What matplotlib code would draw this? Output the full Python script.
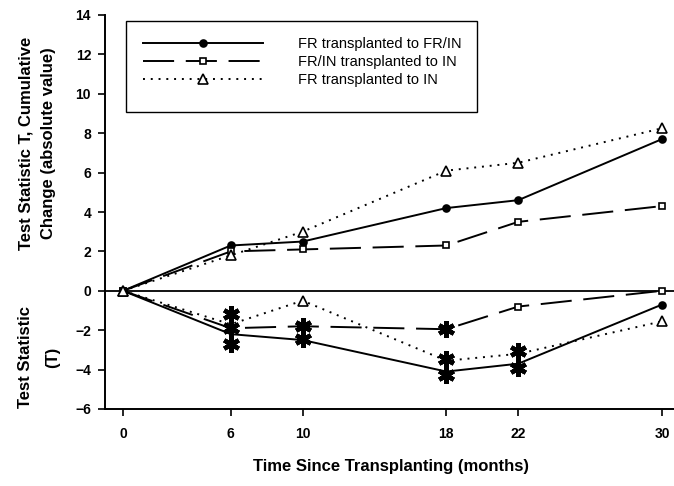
import numpy as np
import matplotlib
matplotlib.use("Agg")
import matplotlib.pyplot as plt
from matplotlib.patches import Rectangle

plt.rcParams['font.family'] = ['Liberation Sans', 'DejaVu Sans']

# months since transplanting
months = [0, 6, 10, 18, 22, 30]
xticks = [0, 6, 10, 18, 22, 30]
yticks = [-6, -4, -2, 0, 2, 4, 6, 8, 10, 12, 14]

labels = ['FR transplanted to FR/IN', 'FR/IN transplanted to IN', 'FR transplanted to IN']

# cumulative change (upper part)
cum_fr_frin = [0, 2.3, 2.5, 4.2, 4.6, 7.7]
cum_frin_in = [0, 2.0, 2.1, 2.3, 3.5, 4.3]
cum_fr_in = [0, 1.8, 3.0, 6.1, 6.5, 8.25]

# test statistic T (lower part)
t_fr_frin = [0, -2.2, -2.5, -4.1, -3.7, -0.7]
t_frin_in = [0, -1.9, -1.8, -1.95, -0.8, 0.0]
t_fr_in = [0, -1.7, -0.5, -3.55, -3.2, -1.55]

# which T values are significant (drawn as asterisks instead of markers)
sig_fr_frin = [False, True, True, True, True, False]
sig_frin_in = [False, True, True, True, False, False]
sig_fr_in = [False, True, False, True, True, False]

# asterisk positions
star_x = [6, 6, 6, 10, 10, 18, 18, 18, 22, 22]
star_y = [-1.2, -1.9, -2.7, -1.8, -2.45, -1.95, -3.45, -4.25, -3.05, -3.9]

fig = plt.figure(figsize=(6.74, 4.86), dpi=100)
ax = fig.add_axes([105 / 674, 1 - 409 / 486, 569 / 674, 394 / 486])

styles = [
    dict(marker='o', mfc='black', ms=5, dashes=()),
    dict(marker='s', mfc='white', ms=5, dashes=(16, 6)),
    dict(marker='^', mfc='white', ms=6.5, dashes=(1, 3)),
]
cums = [cum_fr_frin, cum_frin_in, cum_fr_in]
ts = [t_fr_frin, t_frin_in, t_fr_in]
sigs = [sig_fr_frin, sig_frin_in, sig_fr_in]

ax.axhline(0, color='black', lw=1.3, zorder=1)

handles = []
for cum, t, sig, st, lab in zip(cums, ts, sigs, styles, labels):
    kw = dict(color='black', lw=1.4, mec='black', mew=1.2)
    if st['dashes']:
        kw['dashes'] = st['dashes']
    h, = ax.plot(months, cum, marker=st['marker'], mfc=st['mfc'], ms=st['ms'],
                 label=lab, **kw)
    handles.append(h)
    ax.plot(months, t, **kw)
    mx = [m for m, s in zip(months, sig) if not s]
    my = [v for v, s in zip(t, sig) if not s]
    ax.plot(mx, my, ls='none', marker=st['marker'], mfc=st['mfc'], ms=st['ms'],
            mec='black', mew=1.2)

ax.plot(star_x, star_y, ls='none', marker=(6, 2, 0), ms=12, mew=3.2,
        color='black', zorder=5)

ax.set_xlim(-1.0, 30.67)
ax.set_ylim(-6, 14)
ax.set_xticks(xticks)
ax.set_yticks(yticks)
ax.spines['top'].set_visible(False)
ax.spines['right'].set_visible(False)
ax.spines['left'].set_linewidth(1.4)
ax.spines['bottom'].set_linewidth(1.4)
ax.tick_params(direction='out', length=5, width=1.2, labelsize=10)
ax.tick_params(axis='x', pad=8)
ax.tick_params(axis='y', pad=5)
for lbl in ax.get_xticklabels() + ax.get_yticklabels():
    lbl.set_fontweight('bold')

ax.set_xlabel('Time Since Transplanting (months)', fontsize=12, fontweight='bold')
ax.xaxis.set_label_coords(0.503, -0.127)

fig.text(37 / 674, 1 - 143 / 486, 'Test Statistic T, Cumulative\nChange (absolute value)',
         rotation=90, ha='center', va='center', fontsize=12, fontweight='bold',
         multialignment='center', linespacing=1.6)
fig.text(39 / 674, 1 - 357 / 486, 'Test Statistic\n(T)',
         rotation=90, ha='center', va='center', fontsize=12, fontweight='bold',
         multialignment='center', linespacing=2.0)

# legend frame and entries
ax.add_patch(Rectangle((21 / 569, (409 - 112) / 394), (477 - 126) / 569, (112 - 21) / 394,
                       transform=ax.transAxes, fill=False, ec='black', lw=1.0,
                       zorder=6))
ax.legend(handles=handles, loc='upper left', bbox_to_anchor=(38 / 569, (409 - 37) / 394),
          frameon=False, fontsize=10.5, handlelength=8.2, handletextpad=2.4,
          labelspacing=0.28, borderpad=0, borderaxespad=0, numpoints=1)

fig.savefig('out.png', dpi=100)
